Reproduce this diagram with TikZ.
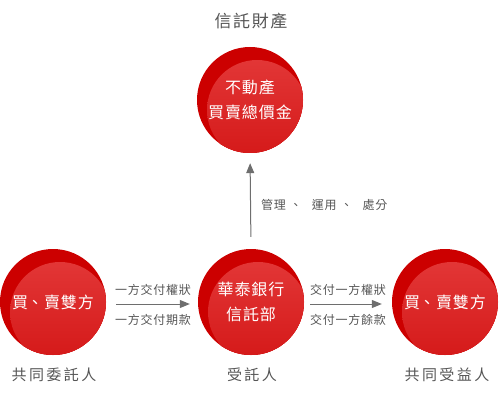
\documentclass[tikz,border=0pt]{standalone}
\usepackage{fontspec}
\setmainfont{Noto Sans CJK TC}
\usetikzlibrary{arrows.meta}
\definecolor{cred}{HTML}{CC0000}
\definecolor{credlight}{HTML}{E43A3A}
\definecolor{credmid}{HTML}{D41818}
\definecolor{tgray}{HTML}{555555}
\definecolor{agray}{HTML}{6E6E6E}
\tikzset{
  circ/.style={circle, minimum size=106pt, inner sep=0pt, fill=cred, text=white,
    font=\fontsize{16}{25}\selectfont\addfontfeature{LetterSpace=6}, align=center,
    path picture={\fill[top color=credlight, bottom color=credmid]
      ([xshift=7pt,yshift=-10pt]path picture bounding box.center) circle (50pt);}},
  captxt/.style={text=tgray, font=\fontsize{15}{18}\selectfont\addfontfeature{LetterSpace=16}},
  toptxt/.style={text=tgray, font=\fontsize{17}{20}\selectfont\addfontfeature{LetterSpace=9}},
  lbl/.style={text=tgray, font=\fontsize{12}{14}\selectfont\addfontfeature{LetterSpace=6}},
  arr/.style={draw=agray, line width=1pt, -{Triangle[length=10pt,width=8pt]}},
}
\begin{document}
\begin{tikzpicture}[x=1pt,y=-1pt]
\useasboundingbox (0,0) rectangle (502,403);
\node[circ] (T) at (250,100) {不動產\\買賣總價金};
\node[circ] (L) at (53,302) {買\hspace{-1pt}、\hspace{1pt}賣雙方};
\node[circ] (M) at (251,302) {華泰銀行\\信託部};
\node[circ] (R) at (445,302) {買\hspace{-1pt}、\hspace{1pt}賣雙方};
\node[toptxt] (tt) at (251,21) {信託財產};
\node[captxt] (lt) at (54,375) {共同委託人};
\node[captxt] (mt) at (252,375) {受託人};
\node[captxt] (rt) at (447,375) {共同受益人};
\draw[arr, shorten <=10pt, shorten >=8pt] ([yshift=-2pt]L.east) -- ([yshift=-2pt]M.west);
\draw[arr, shorten <=6pt, shorten >=10pt] ([yshift=-2pt]M.east) -- ([yshift=-2pt]R.west);
\draw[arr, shorten <=12pt, shorten >=10pt] (M.north) -- (T.south);
\node[lbl] (a1) at (153,290) {一方交付權狀};
\node[lbl] (a2) at (153,320) {一方交付期款};
\node[lbl] (b1) at (348,290) {交付一方權狀};
\node[lbl] (b2) at (348,320) {交付一方餘款};
\node[lbl, anchor=west, inner sep=0pt] (c1) at (261,205) {管理\hspace{4pt}、\hspace{10pt}運用\hspace{4pt}、\hspace{10pt}處分};
\end{tikzpicture}
\end{document}
